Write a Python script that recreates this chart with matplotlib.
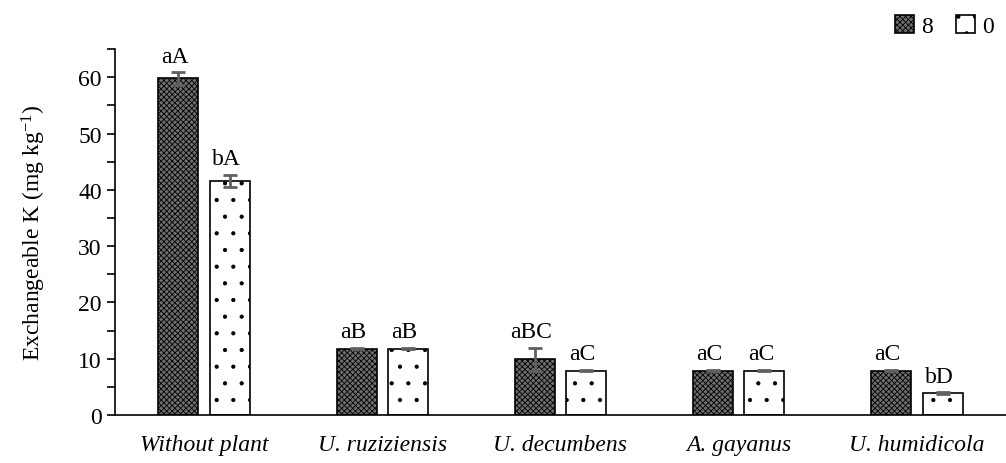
import matplotlib.pyplot as plt
import numpy as np

plt.rcParams['font.family'] = ['Liberation Serif', 'DejaVu Serif']
plt.rcParams['hatch.linewidth'] = 0.6
plt.rcParams['mathtext.default'] = 'regular'

categories = ['Without plant', 'U. ruziziensis', 'U. decumbens', 'A. gayanus', 'U. humidicola']
k8 = [59.8, 11.8, 9.9, 7.9, 7.9]
k0 = [41.6, 11.8, 7.9, 7.9, 3.9]
err8 = [1.1, 0.15, 2.0, 0.15, 0.15]
err0 = [1.1, 0.15, 0.15, 0.15, 0.15]
lab8 = ['aA', 'aB', 'aBC', 'aC', 'aC']
lab0 = ['bA', 'aB', 'aC', 'aC', 'bD']

x = np.arange(len(categories))
w = 0.225
off = 0.144

fig = plt.figure(figsize=(10.06, 4.64), dpi=100)
ax = fig.add_axes([0.1143, 0.1034, 0.8857, 0.7886])

ax.bar(x - off, k8, w, color='#6e6e6e', edgecolor='black', hatch='xxxxxx',
       linewidth=1.2, label='8', zorder=2)
ax.bar(x + off, k0, w, color='white', edgecolor='black', hatch='.',
       linewidth=1.2, label='0', zorder=2)
ax.errorbar(x - off, k8, yerr=err8, fmt='none', ecolor='#606060', elinewidth=2,
            capsize=5, capthick=2, zorder=3)
ax.errorbar(x + off, k0, yerr=err0, fmt='none', ecolor='#606060', elinewidth=2,
            capsize=5, capthick=2, zorder=3)

# significance letters above each bar
for i in range(len(x)):
    ax.text(x[i] - off - 0.02, k8[i] + err8[i] + 1.0, lab8[i], ha='center', va='bottom', fontsize=17)
    ax.text(x[i] + off - 0.02, k0[i] + err0[i] + 1.0, lab0[i], ha='center', va='bottom', fontsize=17)

ax.set_xlim(-0.5, 4.5)
ax.set_ylim(0, 65)
ax.set_yticks(range(0, 61, 10))
ax.set_yticks(range(5, 66, 10), minor=True)
ax.tick_params(axis='y', which='both', direction='out', length=6, width=1.2, labelsize=17)
ax.tick_params(axis='x', length=0, labelsize=17, pad=14)
ax.set_xticks(x)
ax.set_xticklabels(categories, style='italic')
ax.set_ylabel('Exchangeable K (mg kg$^{-1}$)', fontsize=17, labelpad=22)
ax.spines['top'].set_visible(False)
ax.spines['right'].set_visible(False)
ax.spines['left'].set_linewidth(1.2)
ax.spines['bottom'].set_linewidth(1.2)

ax.legend(loc='lower right', bbox_to_anchor=(1.0, 1.0), ncol=2, frameon=False,
          fontsize=17, handlelength=0.8, handleheight=0.8, handletextpad=0.3,
          columnspacing=1.0, borderaxespad=0.1)

fig.savefig('out.png')
